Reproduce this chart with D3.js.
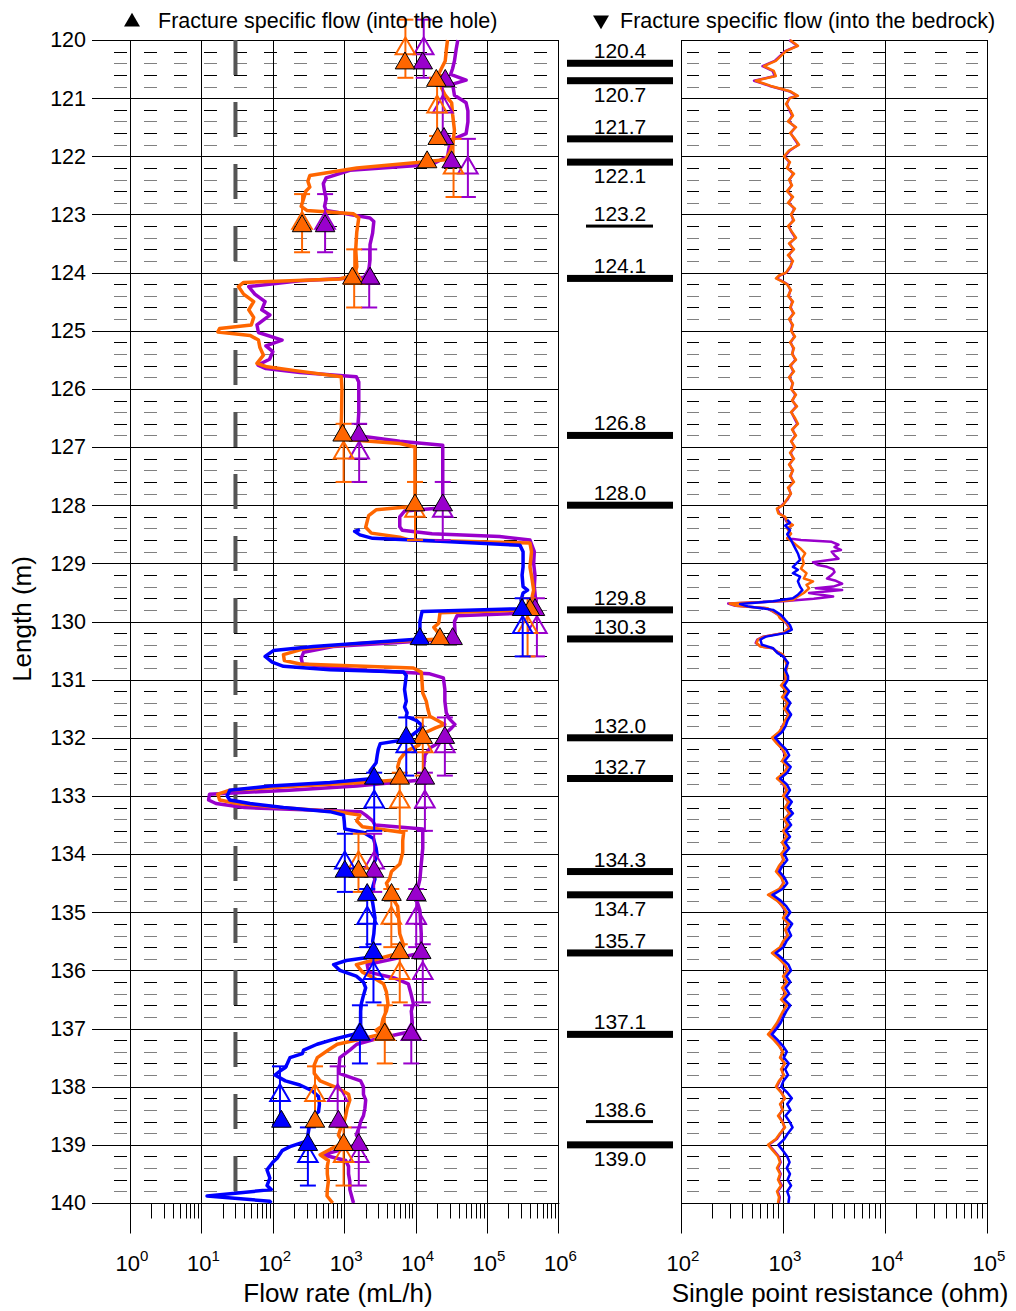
<!DOCTYPE html>
<html>
<head>
<meta charset="utf-8">
<script src="https://cdn.jsdelivr.net/npm/d3@7"></script>
<style>
  body { margin: 0; background: #fff; }
  text { font-family: "Liberation Sans", Arial, sans-serif; fill: #000; }
</style>
</head>
<body>
<svg id="chart" width="1016" height="1311"></svg>
<script>
// ---- data (depth in m, flow in mL/h, resistance in ohm) ----

var depthTicks = d3.range(120, 141);
var flowTickPowers = [0, 1, 2, 3, 4, 5, 6];
var sprTickPowers = [2, 3, 4, 5];
var lowerLimit = 30;

var fracDepth = [120.4, 120.7, 121.7, 122.1, 123.2, 124.1, 126.8, 128.0, 129.8, 130.3,
                 132.0, 132.7, 134.3, 134.7, 135.7, 137.1, 138.6, 139.0];
var fracThin = [123.2, 138.6];

var flowOrange = [[120.0,28000],[120.16,27000],[120.36,26000],[120.49,23000],[120.59,21000],[120.69,28000],
  [120.82,23000],[120.95,26000],[121.08,32000],[121.28,33000],[121.55,35000],[121.8,33000],[121.94,30000],
  [122.06,26000],[122.1,12600],[122.2,1500],[122.33,330],[122.43,310],[122.53,330],[122.6,290],[122.73,270],
  [122.86,250],[122.93,300],[122.99,1350],[123.06,1600],[123.3,1500],[123.6,1450],[123.9,1500],[124.04,1400],
  [124.11,870],[124.17,39],[124.24,33],[124.37,39],[124.5,54],[124.64,46],[124.77,54],[124.9,50],[124.96,18],
  [125.02,17],[125.08,48],[125.16,63],[125.29,66],[125.42,74],[125.56,60],[125.62,83],[125.69,220],[125.79,910],
  [126.0,930],[126.4,920],[126.8,900],[126.87,1070],[126.94,6000],[127.0,9800],[127.5,9800],[128.02,9800],
  [128.08,2800],[128.18,2200],[128.38,2000],[128.48,2400],[128.55,6000],[128.6,8300],[128.65,400000],
  [128.8,420000],[129.06,400000],[129.29,430000],[129.46,450000],[129.57,430000],[129.69,420000],[129.8,400000],
  [129.85,22000],[130.03,21000],[130.1,18000],[130.17,20000],[130.3,22000],[130.37,1900],[130.47,270],
  [130.57,141],[130.67,145],[130.73,240],[130.8,9300],[130.87,12000],[131.03,12300],[131.23,12600],
  [131.37,14100],[131.5,14800],[131.63,15800],[131.77,25700],[131.83,19000],[131.93,12600],[132.03,12600],
  [132.13,11000],[132.23,7400],[132.37,6000],[132.5,5600],[132.63,6000],[132.72,6000],[132.77,1860],
  [132.83,220],[132.9,25],[132.97,17],[133.07,18],[133.13,32],[133.2,126],[133.27,800],[133.33,1660],
  [133.43,1500],[133.53,1800],[133.63,6800],[133.77,6600],[133.97,6600],[134.17,6000],[134.3,4600],
  [134.43,4300],[134.5,3900],[134.63,4300],[134.73,4600],[134.9,5600],[135.1,5800],[135.37,6000],
  [135.57,6800],[135.7,6000],[135.8,3000],[135.9,1480],[136.03,1800],[136.13,2600],[136.23,3550],
  [136.37,3900],[136.57,4100],[136.7,3900],[136.83,3500],[136.97,3300],[137.03,2800],[137.1,3200],
  [137.17,1860],[137.27,800],[137.37,600],[137.5,420],[137.63,380],[137.77,380],[137.9,460],[138.03,830],
  [138.13,1150],[138.23,1200],[138.37,1100],[138.5,1050],[138.6,1000],[138.7,900],[138.83,830],[138.97,980],
  [139.07,650],[139.17,460],[139.27,600],[139.37,580],[139.5,580],[139.63,600],[139.77,580],[139.88,575],
  [140.0,690]];

var flowPurple = [[120.0,39000],[120.16,37000],[120.36,35000],[120.49,33000],[120.59,31000],[120.69,51000],
  [120.76,33000],[120.95,35000],[121.08,51000],[121.22,54000],[121.41,54000],[121.61,51000],[121.71,33000],
  [121.8,30000],[122.0,28000],[122.14,17000],[122.24,1200],[122.37,560],[122.47,510],[122.6,530],[122.73,560],
  [122.86,530],[122.93,560],[123.06,2300],[123.12,2600],[123.32,2500],[123.52,2300],[123.78,2300],
  [123.98,2200],[124.08,2100],[124.14,240],[124.24,46],[124.37,56],[124.5,78],[124.64,70],[124.73,91],
  [124.9,60],[125.03,63],[125.16,135],[125.26,80],[125.36,100],[125.49,90],[125.59,62],[125.65,80],
  [125.72,240],[125.79,1480],[125.88,1600],[126.41,1600],[126.67,1550],[126.8,1500],[126.9,6000],
  [126.97,24000],[127.07,24000],[127.5,24000],[128.0,24000],[128.05,22000],[128.1,7000],[128.2,6000],
  [128.37,6000],[128.43,6500],[128.49,17000],[128.54,150000],[128.6,400000],[128.8,460000],[129.0,450000],
  [129.2,470000],[129.4,460000],[129.63,480000],[129.75,500000],[129.85,500000],[129.9,38000],[130.0,35000],
  [130.26,36000],[130.3,35000],[130.37,4500],[130.43,700],[130.53,270],[130.63,250],[130.73,260],
  [130.83,1480],[130.9,15800],[130.97,24500],[131.17,25700],[131.37,25700],[131.57,26900],[131.67,29500],
  [131.77,35500],[131.83,32000],[131.93,26000],[132.03,25700],[132.17,16000],[132.3,13500],[132.5,13000],
  [132.63,13000],[132.72,13500],[132.77,5000],[132.83,1500],[132.9,170],[132.97,13],[133.07,12.6],
  [133.13,16],[133.2,40],[133.27,1700],[133.33,2000],[133.43,2500],[133.5,2700],[133.57,12600],
  [133.63,12600],[133.9,12600],[134.17,12000],[134.43,11500],[134.63,10500],[134.73,10000],[134.97,11500],
  [135.37,12000],[135.63,12000],[135.7,12000],[135.8,5000],[135.9,2100],[136.03,2200],[136.13,5000],
  [136.23,7900],[136.37,8500],[136.57,9300],[136.7,8700],[136.9,9000],[137.05,8700],[137.17,3000],
  [137.27,1500],[137.37,1200],[137.5,870],[137.63,850],[137.77,850],[137.9,1700],[138.0,1860],[138.13,1860],
  [138.23,2000],[138.37,1950],[138.5,1860],[138.6,1700],[138.7,1620],[138.83,1480],[138.97,1700],
  [139.1,830],[139.17,500],[139.27,1050],[139.37,1150],[139.5,1150],[139.63,1200],[139.77,1200],[140.0,1350]];

var flowBlue = [[128.42,1660],[128.45,1400],[128.51,1660],[128.57,2500],[128.62,22000],[128.69,290000],
  [128.8,320000],[129.06,320000],[129.2,310000],[129.4,320000],[129.46,370000],[129.51,320000],
  [129.63,300000],[129.78,310000],[129.83,12300],[130.0,11500],[130.26,11500],[130.3,11500],[130.37,1860],
  [130.43,370],[130.5,102],[130.6,78],[130.7,98],[130.77,141],[130.83,630],[130.87,6800],[130.93,7400],
  [131.17,7000],[131.37,7400],[131.47,7000],[131.57,7600],[131.63,7400],[131.7,10200],[131.8,12600],
  [131.9,10200],[132.03,7400],[132.1,3200],[132.2,3000],[132.3,2900],[132.43,2800],[132.57,2300],
  [132.7,2600],[132.77,630],[132.83,91],[132.9,25],[133.0,23],[133.07,25],[133.13,48],[133.2,141],
  [133.27,630],[133.33,980],[133.43,1000],[133.57,1020],[133.63,1860],[133.73,2570],[133.9,2800],
  [134.03,2900],[134.17,2570],[134.3,2400],[134.43,2700],[134.57,2500],[134.7,2300],[134.83,2500],
  [135.1,2700],[135.37,2600],[135.5,2500],[135.63,2700],[135.7,2600],[135.77,2400],[135.83,1070],
  [135.9,710],[136.0,870],[136.1,1480],[136.2,1860],[136.3,2000],[136.43,1860],[136.57,1740],[136.7,1700],
  [136.83,1700],[136.97,1700],[137.07,1660],[137.17,790],[137.27,417],[137.37,270],[137.43,260],[137.5,174],
  [137.6,160],[137.67,150],[137.73,126],[137.8,107],[137.9,150],[137.97,240],[138.07,355],[138.17,437],
  [138.3,450],[138.43,437],[138.53,355],[138.63,330],[138.73,320],[138.83,310],[138.93,310],[139.03,174],
  [139.1,135],[139.23,115],[139.3,100],[139.43,83],[139.57,91],[139.7,83],[139.77,95],[139.88,12],
  [139.97,91],[140.0,95]];

// fracture specific flow (into the hole), filled triangles
var fsfOrange = [[120.4,7100],[120.7,19500],[121.7,20400],[122.1,14500],[123.2,257],[124.1,1300],
  [126.8,950],[128.0,9800],[129.8,400000],[130.3,21900],[132.0,12600],[132.7,6000],[134.3,1585],
  [134.7,4600],[135.7,6000],[137.1,3700],[138.6,390],[139.0,980]];
var fsfPurple = [[120.4,12600],[120.7,26000],[121.7,25000],[122.1,32000],[123.2,540],[124.1,2300],
  [126.8,1600],[128.0,24000],[129.8,470000],[130.3,33000],[132.0,25700],[132.7,13500],[134.3,2630],
  [134.7,10200],[135.7,12000],[137.1,8700],[138.6,830],[139.0,1600]];
var fsfBlue = [[129.8,310000],[130.3,11500],[132.0,7400],[132.7,2630],[134.3,1020],[134.7,2100],
  [135.7,2570],[137.1,1660],[138.6,132],[139.0,310]];

// open triangles with their 1 m section bars
var sectionLength = 1.0;
var openOrange = [[120.15,7200],[121.15,20000],[122.2,34000],[123.15,257],[124.1,1380],[127.1,980],
  [128.1,9800],[130.1,370000],[132.15,12600],[133.1,6000],[134.15,1585],[135.1,4570],[136.05,6000],
  [137.1,3700],[138.15,390],[139.2,980]];
var openPurple = [[120.15,13000],[121.15,24000],[122.2,54000],[123.15,540],[124.1,2240],[127.1,1620],
  [128.1,24000],[130.1,500000],[132.15,25700],[133.1,13500],[134.15,2630],[135.1,10200],[136.05,12600],
  [137.1,8700],[138.15,810],[139.2,1600]];
var openBlue = [[130.1,316000],[132.15,7400],[133.1,2630],[134.15,1020],[135.1,2100],[136.05,2570],
  [137.1,1660],[138.15,126],[139.2,310]];

// single point resistance
var sprOrange = [[120.0,1170],[120.1,1400],[120.19,1070],[120.36,850],[120.45,650],[120.53,810],[120.62,850],
  [120.7,540],[120.79,760],[120.88,1170],[120.96,1400],
  [121.0,1171],[121.1,1070],[121.2,1171],[121.3,1253],[121.4,1119],[121.5,1341],[121.6,1171],[121.7,1311],
  [121.8,1435],[121.9,1145],[122.0,1023],[122.1,1171],[122.2,1094],[122.3,1282],[122.4,1145],[122.5,1225],
  [122.6,1094],[122.7,1253],[122.8,1119],[122.9,1311],[123.0,1198],[123.1,1282],[123.2,1119],[123.3,1225],
  [123.4,1341],[123.5,1145],[123.6,1282],[123.7,1119],[123.8,1253],[123.9,1171],[124.0,1070],[124.05,914],
  [124.1,853],[124.15,978],[124.2,1094],[124.3,1198],[124.4,1119],[124.5,1253],[124.6,1171],[124.7,1282],
  [124.8,1145],[124.9,1253],[125.0,1198],[125.1,1311],[125.2,1171],[125.3,1282],[125.4,1225],[125.5,1341],
  [125.6,1171],[125.7,1282],[125.8,1145],[125.9,1253],[126.0,1198],[126.1,1341],[126.2,1225],[126.3,1372],
  [126.4,1198],[126.5,1311],[126.6,1403],[126.7,1225],[126.8,1341],[126.9,1198],[127.0,1311],[127.1,1171],
  [127.2,1282],[127.3,1145],[127.4,1253],[127.5,1171],[127.6,1282],[127.7,1119],[127.8,1198],[127.9,1094],
  [128.0,1000],[128.06,870],[128.14,900],
  [128.2,1050],[128.28,1100],[128.34,1250],[128.4,1100],[128.49,1200],[128.57,1100],[128.66,1300],
  [128.74,1470],[128.83,1650],[128.91,1550],[129.0,1600],[129.09,1500],[129.17,1700],[129.26,1600],
  [129.31,1970],[129.37,1700],[129.43,1800],[129.51,1600],[129.57,1400],[129.63,1250],[129.66,740],
  [129.69,300],[129.73,350],[129.77,700],[129.83,810],[129.89,900],[129.94,930],[130.03,1100],[130.11,1170],
  [130.2,1000],[130.26,650],[130.31,570],[130.37,550],[130.43,600],[130.46,800],[130.51,850],[130.57,1000],
  [130.66,1050],[130.77,1100],[130.89,1050],
  [131.0,1070],[131.1,956],[131.2,1094],[131.3,978],[131.4,1119],[131.5,1023],[131.6,1145],[131.7,1046],
  [131.8,1000],[131.9,914],[132.0,780],[132.1,873],[132.2,1000],[132.3,1070],[132.4,978],[132.5,1119],
  [132.6,1023],[132.7,873],[132.8,1023],[132.9,1094],[133.0,1000],[133.1,1145],[133.2,1046],[133.3,1171],
  [133.4,1023],[133.5,1119],[133.6,1000],[133.7,1094],[133.8,978],[133.9,1070],[134.0,956],[134.1,1023],
  [134.2,914],[134.3,853],[134.4,956],[134.5,1023],[134.6,914],[134.7,713],[134.8,873],[134.9,1000],
  [135.0,1094],[135.1,1000],[135.2,1145],[135.3,1046],[135.4,1119],[135.5,1000],[135.6,935],[135.7,780],
  [135.8,914],[135.9,1046],[136.0,1119],[136.1,1000],[136.2,1094],[136.3,978],[136.4,1070],[136.5,956],
  [136.6,1094],[136.7,1000],[136.8,935],[136.9,873],[137.0,798],[137.1,713],[137.2,816],[137.3,914],
  [137.4,1000],[137.5,935],[137.6,1046],[137.7,956],[137.8,1023],[137.9,914],[138.0,853],[138.1,956],
  [138.2,1046],[138.3,935],[138.4,1000],[138.5,893],[138.6,978],[138.7,1046],[138.8,935],[138.9,853],
  [139.0,713],[139.1,798],[139.2,893],[139.3,935],[139.4,873],[139.5,935],[139.6,893],[139.7,956],
  [139.8,873],[139.9,914],[140.0,893]];

var sprPurple = [[120.0,1150],[120.1,1380],[120.19,1050],[120.36,830],[120.45,630],[120.53,790],[120.62,830],
  [120.7,520],[120.79,740],[120.88,1150],[120.96,1380],
  [121.0,1150],[121.1,1090],[121.2,1150],[121.3,1230],[121.4,1140],[121.5,1320],[121.6,1190],[121.7,1290],
  [121.8,1410],[121.9,1170],[122.0,1040],[122.1,1150],[122.2,1110],[122.3,1260],[122.4,1160],[122.5,1210],
  [122.6,1110],[122.7,1230],[122.8,1140],[122.9,1290],[123.0,1210],[123.1,1260],[123.2,1140],[123.3,1210],
  [123.4,1320],[123.5,1160],[123.6,1260],[123.7,1140],[123.8,1230],[123.9,1190],[124.0,1080],[124.05,930],
  [124.1,870],[124.15,990],[124.2,1110],[124.3,1180],[124.4,1140],[124.5,1230],[124.6,1190],[124.7,1260],
  [124.8,1160],[124.9,1230],[125.0,1210],[125.1,1290],[125.2,1190],[125.3,1260],[125.4,1240],[125.5,1320],
  [125.6,1190],[125.7,1260],[125.8,1160],[125.9,1240],[126.0,1210],[126.1,1320],[126.2,1240],[126.3,1350],
  [126.4,1210],[126.5,1290],[126.6,1380],[126.7,1240],[126.8,1320],[126.9,1210],[127.0,1290],[127.1,1190],
  [127.2,1260],[127.3,1160],[127.4,1240],[127.5,1190],[127.6,1260],[127.7,1140],[127.8,1190],[127.9,1110],
  [128.0,980],[128.06,880],[128.14,920],
  [128.2,1030],[128.28,1080],[128.34,1230],[128.4,1120],[128.49,1180],[128.57,1100],[128.6,1500],
  [128.63,3000],[128.68,3500],[128.72,3200],[128.77,3700],[128.8,3000],[128.86,3200],[128.92,3500],
  [128.98,1970],[129.03,2200],[129.06,2700],[129.1,3100],[129.15,3200],[129.2,3000],[129.26,2700],
  [129.3,3300],[129.35,3800],[129.4,3100],[129.43,2100],[129.46,3800],[129.51,1800],[129.57,3100],
  [129.61,2000],[129.65,1000],[129.69,290],[129.73,340],[129.77,690],[129.83,800],[129.89,910],[129.94,940],
  [130.03,1080],[130.11,1150],[130.2,1000],[130.26,640],[130.31,560],[130.37,540],[130.43,610],[130.46,790],
  [130.51,860],[130.57,990],[130.66,1060],[130.77,1090],[130.89,1060],
  [131.0,1050],[131.1,975],[131.2,1075],[131.3,995],[131.4,1100],[131.5,1040],[131.6,1125],[131.7,1065],
  [131.8,985],[131.9,930],[132.0,790],[132.1,890],[132.2,985],[132.3,1050],[132.4,995],[132.5,1100],
  [132.6,1040],[132.7,890],[132.8,1005],[132.9,1075],[133.0,1015],[133.1,1125],[133.2,1065],[133.3,1150],
  [133.4,1040],[133.5,1100],[133.6,1015],[133.7,1075],[133.8,995],[133.9,1050],[134.0,975],[134.1,1005],
  [134.2,930],[134.3,870],[134.4,975],[134.5,1005],[134.6,930],[134.7,725],[134.8,890],[134.9,985],
  [135.0,1075],[135.1,1015],[135.2,1125],[135.3,1065],[135.4,1100],[135.5,1015],[135.6,950],[135.7,795],
  [135.8,930],[135.9,1030],[136.0,1100],[136.1,1015],[136.2,1075],[136.3,995],[136.4,1050],[136.5,975],
  [136.6,1075],[136.7,1015],[136.8,950],[136.9,890],[137.0,815],[137.1,725],[137.2,830],[137.3,930],
  [137.4,985],[137.5,950],[137.6,1030],[137.7,975],[137.8,1005],[137.9,930],[138.0,870],[138.1,975],
  [138.2,1030],[138.3,950],[138.4,985],[138.5,910],[138.6,995],[138.7,1030],[138.8,950],[138.9,870],
  [139.0,725],[139.1,815],[139.2,910],[139.3,950],[139.4,890],[139.5,950],[139.6,910],[139.7,975],
  [139.8,890],[139.9,930],[140.0,910]];

var sprBlue = [[128.25,1100],[128.3,1170],[128.35,1050],[128.43,1170],[128.5,1100],[128.6,1200],[128.72,1300],
  [128.83,1400],[128.94,1470],[129.06,1250],[129.11,1400],[129.17,1250],[129.23,1470],[129.31,1400],
  [129.4,1470],[129.46,1550],[129.54,1400],[129.6,1250],[129.65,800],[129.7,380],[129.74,450],[129.8,800],
  [129.89,960],[129.97,1050],[130.06,1170],[130.14,1220],[130.2,1050],[130.26,680],[130.31,600],[130.4,620],
  [130.46,800],[130.54,880],[130.6,1000],[130.71,1120],[130.83,1050],[130.94,1120],
  [131.0,1120],[131.1,1030],[131.2,1150],[131.3,1060],[131.4,1180],[131.5,1100],[131.6,1200],[131.7,1110],
  [131.8,1060],[131.9,980],[132.0,840],[132.1,940],[132.2,1070],[132.3,1150],[132.4,1040],[132.5,1190],
  [132.6,1100],[132.7,940],[132.8,1090],[132.9,1170],[133.0,1080],[133.1,1220],[133.2,1120],[133.3,1250],
  [133.4,1100],[133.5,1200],[133.6,1070],[133.7,1170],[133.8,1050],[133.9,1150],[134.0,1030],[134.1,1100],
  [134.2,990],[134.3,920],[134.4,1030],[134.5,1100],[134.6,990],[134.7,790],[134.8,950],[134.9,1080],
  [135.0,1180],[135.1,1080],[135.2,1230],[135.3,1130],[135.4,1200],[135.5,1080],[135.6,1010],[135.7,850],
  [135.8,990],[135.9,1130],[136.0,1200],[136.1,1080],[136.2,1180],[136.3,1060],[136.4,1150],[136.5,1030],
  [136.6,1180],[136.7,1080],[136.8,1010],[136.9,950],[137.0,870],[137.1,780],[137.2,890],[137.3,1000],
  [137.4,1090],[137.5,1020],[137.6,1140],[137.7,1050],[137.8,1120],[137.9,1010],[138.0,960],[138.1,1100],
  [138.2,1220],[138.3,1100],[138.4,1180],[138.5,1060],[138.6,1160],[138.7,1240],[138.8,1120],[138.9,1030],
  [139.0,900],[139.1,1000],[139.2,1100],[139.3,1160],[139.4,1090],[139.5,1170],[139.6,1110],[139.7,1200],
  [139.8,1100],[139.9,1150],[140.0,1130]];

// ---- drawing ----
var svg = d3.select("#chart");
var cBlue = "#0000ff", cOrange = "#ff6600", cPurple = "#9900cc";

var y = d3.scaleLinear().domain([120, 140]).range([40, 1203]);
var xFlow = d3.scaleLog().domain([1, 1e6]).range([130, 558.4]);
var xSpr = d3.scaleLog().domain([100, 1e5]).range([681, 987]);
var flowLeft = 100;

// snap 1px lines to the pixel grid
function px(v){ return Math.round(v) + 0.5; }
function yc(d){ return px(y(d)); }

var minorDepths = d3.range(0, 100).map(function(i){ return 120 + (i + 1) * 0.2; })
  .filter(function(d){ return Math.abs(d - Math.round(d)) > 0.01; });

function minorColor(d){
  var k = Math.round((d - Math.floor(d + 0.001)) * 5);
  return (k % 2 === 1) ? "#000" : "#808080";
}

// left panel grid
var gL = svg.append("g");
gL.selectAll("line.minor").data(minorDepths).enter().append("line")
  .attr("x1", 114).attr("x2", 558).attr("y1", yc).attr("y2", yc)
  .attr("stroke", minorColor).attr("stroke-width", 1).attr("stroke-dasharray", "13,17");
gL.selectAll("line.major").data(depthTicks).enter().append("line")
  .attr("x1", flowLeft - 8).attr("x2", 559).attr("y1", yc).attr("y2", yc)
  .attr("stroke", "#000").attr("stroke-width", 1);
gL.selectAll("line.vert").data(flowTickPowers).enter().append("line")
  .attr("x1", function(p){ return px(xFlow(Math.pow(10, p))); })
  .attr("x2", function(p){ return px(xFlow(Math.pow(10, p))); })
  .attr("y1", yc(120)).attr("y2", yc(140)).attr("stroke", "#000").attr("stroke-width", 1);

// right panel grid
var gR = svg.append("g");
gR.selectAll("line.minor").data(minorDepths).enter().append("line")
  .attr("x1", 687).attr("x2", 987).attr("y1", yc).attr("y2", yc)
  .attr("stroke", minorColor).attr("stroke-width", 1).attr("stroke-dasharray", "12,19");
gR.selectAll("line.major").data(depthTicks).enter().append("line")
  .attr("x1", 681).attr("x2", 987).attr("y1", yc).attr("y2", yc)
  .attr("stroke", "#000").attr("stroke-width", 1);
gR.selectAll("line.vert").data(sprTickPowers).enter().append("line")
  .attr("x1", function(p){ return px(xSpr(Math.pow(10, p))); })
  .attr("x2", function(p){ return px(xSpr(Math.pow(10, p))); })
  .attr("y1", yc(120)).attr("y2", yc(140)).attr("stroke", "#000").attr("stroke-width", 1);

// y axis labels
var yAxis = svg.append("g").attr("transform", "translate(" + flowLeft + ",0)")
  .call(d3.axisLeft(y).tickValues(depthTicks).tickFormat(d3.format("d")).tickSize(0).tickPadding(14));
yAxis.select(".domain").remove();
yAxis.selectAll(".tick text").style("font-size", "21.5px").style("font-family", "Liberation Sans, Arial, sans-serif");

// x axes (major and minor ticks)
function logMinor(p0, p1){
  var out = [];
  for (var p = p0; p < p1; p++) for (var m = 2; m <= 9; m++) out.push(m * Math.pow(10, p));
  return out;
}
function drawXAxis(scale, powers, x0){
  var g = svg.append("g").attr("transform", "translate(0," + yc(140) + ")");
  var mnr = g.append("g").call(d3.axisBottom(scale).tickValues(logMinor(powers[0], powers[powers.length - 1]))
      .tickFormat("").tickSize(15).tickSizeOuter(0));
  mnr.select(".domain").remove();
  mnr.selectAll(".tick").attr("transform", function(d){ return "translate(" + px(scale(d)) + ",0)"; });
  mnr.selectAll("line").attr("stroke", "#000");
  var maj = g.append("g").call(d3.axisBottom(scale).tickValues(powers.map(function(p){ return Math.pow(10, p); }))
      .tickFormat("").tickSize(30).tickSizeOuter(0));
  maj.select(".domain").remove();
  maj.selectAll(".tick").attr("transform", function(d){ return "translate(" + px(scale(d)) + ",0)"; });
  maj.selectAll("line").attr("stroke", "#000");
  g.append("line").attr("x1", x0).attr("x2", scale.range()[1] + 1).attr("stroke", "#000");
  var lab = g.selectAll("text.lab").data(powers).enter().append("text")
    .attr("x", function(p){ return scale(Math.pow(10, p)) + 2; })
    .attr("y", 67).attr("text-anchor", "middle").style("font-size", "22px");
  lab.append("tspan").text("10");
  lab.append("tspan").attr("dy", -10).style("font-size", "15px").text(function(p){ return p; });
}
drawXAxis(xFlow, flowTickPowers, flowLeft);
drawXAxis(xSpr, sprTickPowers, 681);

// right panel frame
svg.append("rect").attr("x", px(681)).attr("y", yc(120)).attr("width", Math.round(987 - 681))
  .attr("height", yc(140) - yc(120)).attr("fill", "none").attr("stroke", "#000").attr("stroke-width", 1);

// lower limit of flow
svg.append("line").attr("x1", xFlow(lowerLimit)).attr("x2", xFlow(lowerLimit))
  .attr("y1", y(120)).attr("y2", y(140)).attr("stroke", "#555").attr("stroke-width", 4)
  .attr("stroke-dasharray", "35,27");

// flow curves
var flowLine = d3.line().x(function(d){ return xFlow(d[1]); }).y(function(d){ return y(d[0]); });
[[flowPurple, cPurple], [flowOrange, cOrange], [flowBlue, cBlue]].forEach(function(s){
  svg.append("path").datum(s[0]).attr("d", flowLine).attr("fill", "none")
    .attr("stroke", s[1]).attr("stroke-width", 3.5).attr("stroke-linejoin", "round");
});

// open triangles with section bars
var tri = d3.symbol().type(d3.symbolTriangle).size(165);
[[openPurple, cPurple], [openOrange, cOrange], [openBlue, cBlue]].forEach(function(s){
  var g = svg.append("g").attr("stroke", s[1]).attr("stroke-width", 2).attr("fill", "none");
  s[0].forEach(function(d){
    var x = xFlow(d[1]), ya = y(d[0] - sectionLength / 2), yb = y(d[0] + sectionLength / 2);
    g.append("line").attr("x1", x).attr("x2", x).attr("y1", ya).attr("y2", yb);
    g.append("line").attr("x1", x - 8).attr("x2", x + 8).attr("y1", ya).attr("y2", ya);
    g.append("line").attr("x1", x - 8).attr("x2", x + 8).attr("y1", yb).attr("y2", yb);
    g.append("path").attr("d", tri).attr("transform", "translate(" + x + "," + y(d[0]) + ")");
  });
});

// filled triangles
[[fsfPurple, cPurple], [fsfOrange, cOrange], [fsfBlue, cBlue]].forEach(function(s){
  svg.append("g").selectAll("path").data(s[0]).enter().append("path")
    .attr("d", tri)
    .attr("transform", function(d){ return "translate(" + xFlow(d[1]) + "," + y(d[0]) + ")"; })
    .attr("fill", s[1]).attr("stroke", "#000").attr("stroke-width", 1);
});

// single point resistance
var sprLine = d3.line().x(function(d){ return xSpr(d[1]); }).y(function(d){ return y(d[0]); });
[[sprPurple, cPurple], [sprOrange, cOrange], [sprBlue, cBlue]].forEach(function(s){
  svg.append("path").datum(s[0]).attr("d", sprLine).attr("fill", "none")
    .attr("stroke", s[1]).attr("stroke-width", 2.5).attr("stroke-linejoin", "round");
});

// fracture bars and labels
var gF = svg.append("g");
fracDepth.forEach(function(d, i){
  var thin = fracThin.indexOf(d) >= 0;
  gF.append("rect").attr("x", thin ? 586 : 567).attr("width", thin ? 67 : 106)
    .attr("y", y(d) - (thin ? 1.5 : 3.5)).attr("height", thin ? 3 : 7).attr("fill", "#000");
  var below = i > 0 && d - fracDepth[i - 1] < 0.45;
  gF.append("text").attr("x", 620).attr("y", below ? y(d) + 21 : y(d) - 5)
    .attr("text-anchor", "middle").style("font-size", "21px").text(d.toFixed(1));
});

// header legend
var tri2 = d3.symbol().type(d3.symbolTriangle).size(110);
svg.append("path").attr("d", tri2).attr("transform", "translate(132,22)").attr("fill", "#000");
svg.append("text").attr("x", 158).attr("y", 28).style("font-size", "21.5px")
  .text("Fracture specific flow (into the hole)");
svg.append("path").attr("d", tri2).attr("transform", "translate(601,20) rotate(180)").attr("fill", "#000");
svg.append("text").attr("x", 620).attr("y", 28).style("font-size", "21.5px")
  .text("Fracture specific flow (into the bedrock)");

// axis titles
svg.append("text").attr("x", 338).attr("y", 1302).attr("text-anchor", "middle").style("font-size", "26px")
  .text("Flow rate (mL/h)");
svg.append("text").attr("x", 840).attr("y", 1302).attr("text-anchor", "middle").style("font-size", "26px")
  .text("Single point resistance (ohm)");
svg.append("text").attr("transform", "translate(31,619) rotate(-90)").attr("text-anchor", "middle")
  .style("font-size", "26px").text("Length (m)");
</script>
</body>
</html>
